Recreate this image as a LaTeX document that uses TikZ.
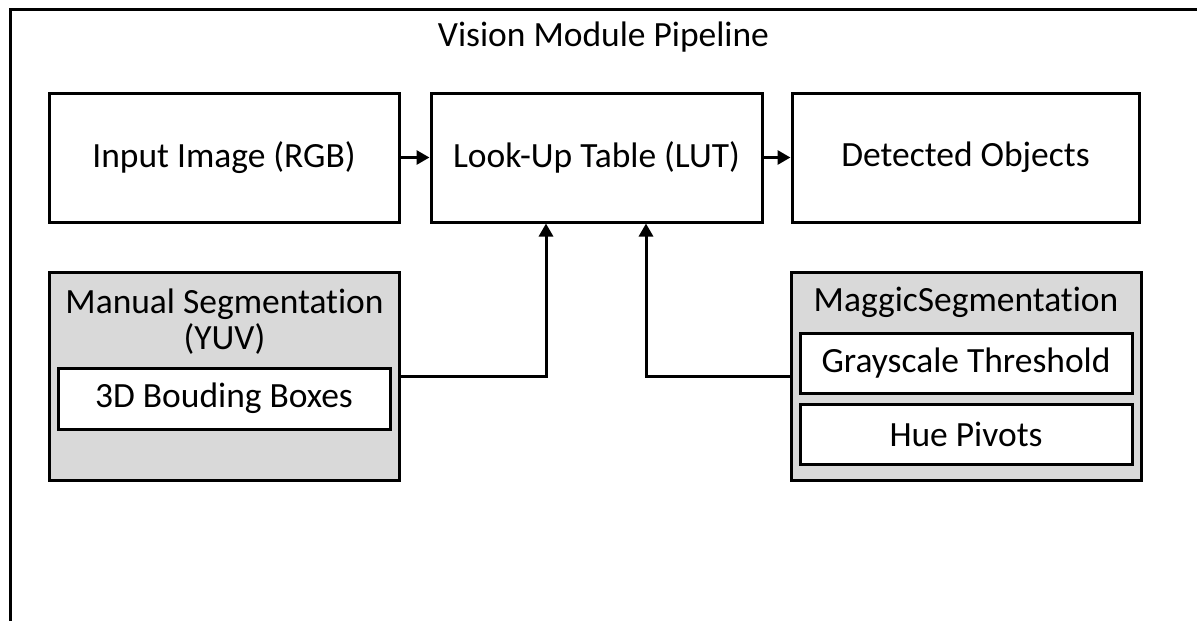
\documentclass[tikz,border=0pt]{standalone}
\usepackage{fontspec}
\setmainfont[Ligatures=NoCommon]{Carlito}
\usetikzlibrary{arrows.meta,calc}
\definecolor{panelgray}{HTML}{D9D9D9}
\begin{document}
\begin{tikzpicture}[x=0.75pt,y=-0.75pt,
  line join=miter,
  txt/.style={font=\fontsize{26.6}{32}\selectfont},
  box/.style={txt,draw=black,line width=2.25pt,fill=white,inner sep=0pt},
  panel/.style={draw=black,line width=2.25pt,fill=panelgray,inner sep=0pt},
  lbl/.style={txt,inner sep=0pt,anchor=base},
  arr/.style={draw=black,line width=2.25pt,-{Triangle[length=9.75pt,width=10.5pt]}}]
\useasboundingbox (0,0) rectangle (1197,621);
\clip (0,0) rectangle (1197,621);

% outer frame (runs past the page on the right and bottom)
\draw[line width=2.25pt] (10.5,650) -- (10.5,9) -- (1230,9);

% title
\node[lbl] (title) at (603.5,46) {Vision Module Pipeline};

% main pipeline row
\node[box,minimum width=350*0.75pt,minimum height=129*0.75pt] (in)  at (224,157.5)   {Input Image (RGB)};
\node[box,minimum width=331*0.75pt,minimum height=129*0.75pt] (lut) at (596.5,157.5) {Look-Up Table (LUT)};
\node[box,minimum width=347*0.75pt,minimum height=129*0.75pt] (det) at (965.5,157.5) {Detected Objects};

% manual segmentation panel
\node[panel,minimum width=350*0.75pt,minimum height=208*0.75pt] (man) at (224.5,376) {};
\node[lbl] (mant1) at (224.5,313) {Manual Segmentation};
\node[lbl] (mant2) at (224.5,349) {(YUV)};
\node[box,minimum width=332*0.75pt,minimum height=61*0.75pt] (bb) at (224,398.5) {3D Bouding Boxes};

% maggic segmentation panel
\node[panel,minimum width=350*0.75pt,minimum height=208*0.75pt] (mag) at (966,376) {};
\node[lbl] (magt) at (966,311) {MaggicSegmentation};
\node[box,minimum width=332*0.75pt,minimum height=60*0.75pt] (gs) at (966,363) {Grayscale Threshold};
\node[box,minimum width=332*0.75pt,minimum height=60*0.75pt] (hp) at (966,434) {Hue Pivots};

% connectors
\coordinate (lutL) at ($(lut.south)+(-50.5,0)$);
\coordinate (lutR) at ($(lut.south)+(49.5,0)$);
\draw[arr] (in.east) -- (lut.west);
\draw[arr] (lut.east) -- (det.west);
\draw[arr] (man.east) -| (lutL);
\draw[arr] (mag.west) -| (lutR);
\end{tikzpicture}
\end{document}
